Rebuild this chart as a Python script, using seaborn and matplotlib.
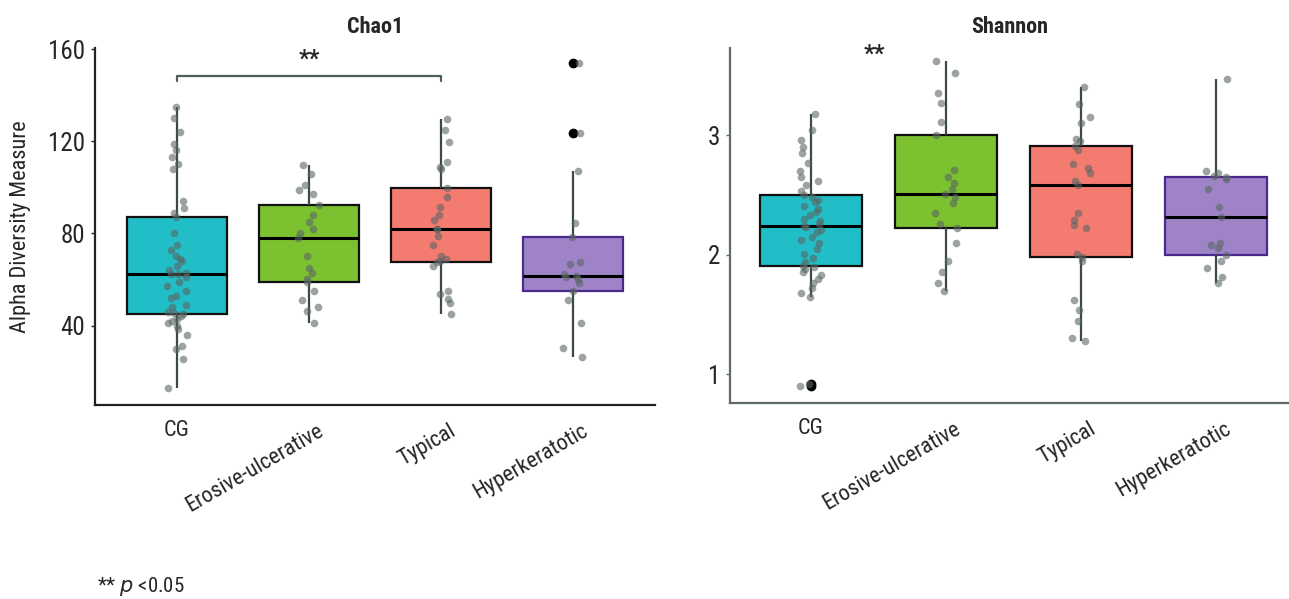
import numpy as np
import pandas as pd
import matplotlib
matplotlib.use("Agg")
import matplotlib.pyplot as plt
import matplotlib.transforms as mtransforms
from matplotlib import font_manager
import seaborn as sns

# ---- data -------------------------------------------------------------
groups = ["CG", "Erosive-ulcerative", "Typical", "Hyperkeratotic"]

chao1_cg = [12.8, 25.5, 30, 31, 36, 38.5, 40, 41, 42, 43, 44, 44.8, 45.5, 46, 48,
            49, 52, 53, 55, 57, 59, 61, 62.2, 62.5, 63, 64, 66, 68, 69, 70, 73, 75,
            80, 87, 89, 91, 94, 108, 110, 113, 116, 119, 124, 130, 135]
chao1_ero = [41, 46.5, 48, 51, 55, 59.1, 60, 62.6, 65, 70, 77.8, 80, 82, 85, 88,
             92.2, 97, 99, 101, 106, 109.6]
chao1_typ = [44.8, 49.6, 51.7, 53.9, 55, 66, 67.4, 68, 69, 70.4, 75, 79, 81.7, 82,
             85.6, 87.8, 91.3, 95.7, 99.6, 107.8, 109, 110.9, 119.6, 125, 129.6]
chao1_hyp = [26.5, 30.4, 40.9, 50.9, 54.8, 58.3, 60, 61, 61.7, 62.5, 66.5, 67.4,
             78.3, 84.3, 107, 123.5, 154]

shannon_cg = [0.90, 0.92, 1.65, 1.68, 1.72, 1.76, 1.80, 1.83, 1.86, 1.88, 1.90, 1.91,
              1.94, 1.97, 2.01, 2.05, 2.10, 2.12, 2.15, 2.19, 2.21, 2.23, 2.24, 2.26,
              2.28, 2.30, 2.33, 2.36, 2.38, 2.41, 2.44, 2.46, 2.48, 2.50, 2.53, 2.58,
              2.62, 2.65, 2.70, 2.77, 2.85, 2.90, 2.96, 3.04, 3.18]
shannon_ero = [1.70, 1.76, 1.86, 1.95, 2.10, 2.22, 2.26, 2.35, 2.43, 2.48, 2.51, 2.55,
               2.60, 2.65, 2.71, 3.00, 3.11, 3.27, 3.35, 3.52, 3.62]
shannon_typ = [1.28, 1.30, 1.45, 1.54, 1.62, 1.95, 1.98, 2.01, 2.22, 2.25, 2.29, 2.35,
               2.58, 2.62, 2.68, 2.73, 2.76, 2.88, 2.91, 2.95, 2.97, 3.10, 3.15, 3.26,
               3.40]
shannon_hyp = [1.76, 1.81, 1.89, 1.95, 2.00, 2.06, 2.08, 2.10, 2.32, 2.40, 2.55, 2.63,
               2.65, 2.66, 2.68, 2.70, 3.47]

chao1_ticks = [40, 80, 120, 160]
shannon_ticks = [1, 2, 3]

palette = ["#22BEC8", "#7CC130", "#F37B70", "#9E84C6"]
edge_colors = ["#111111", "#111111", "#111111", "#4A2A8E"]


def long_frame(series):
    rows = []
    for g, vals in zip(groups, series):
        rows += [(g, v) for v in vals]
    return pd.DataFrame(rows, columns=["group", "value"])


chao1_df = long_frame([chao1_cg, chao1_ero, chao1_typ, chao1_hyp])
shannon_df = long_frame([shannon_cg, shannon_ero, shannon_typ, shannon_hyp])

# ---- style ------------------------------------------------------------
sns.set_theme(style="white")
available = {f.name for f in font_manager.fontManager.ttflist}
base_font = "Roboto"
for cand in ["Roboto Condensed", "Liberation Sans Narrow", "Open Sans Condensed"]:
    if cand in available:
        base_font = cand
        break
plt.rcParams["font.family"] = [base_font, "DejaVu Sans"]

fig = plt.figure(figsize=(12.89, 5.99), dpi=100)
ax1 = fig.add_axes([0.0737, 0.3239, 0.4344, 0.5960])
ax2 = fig.add_axes([0.5663, 0.3272, 0.4337, 0.5927])

np.random.seed(7)


def draw_panel(ax, df, spine_color, whisker_color):
    sns.boxplot(data=df, x="group", y="value", hue="group", order=groups,
                hue_order=groups, palette=palette, legend=False, width=0.76,
                saturation=1, showcaps=False, linewidth=1.6, linecolor="#111111",
                whiskerprops=dict(color=whisker_color, linewidth=1.6),
                medianprops=dict(color="black", linewidth=2.2),
                flierprops=dict(marker="o", markerfacecolor="black",
                                markeredgecolor="black", markersize=6),
                ax=ax, zorder=2)
    for patch, ec in zip(ax.patches, edge_colors):
        patch.set_edgecolor(ec)
    sns.stripplot(data=df, x="group", y="value", order=groups, color="#5a6665",
                  alpha=0.6, size=5.5, jitter=0.08, linewidth=0, ax=ax, zorder=3)
    ax.set_xlabel("")
    ax.set_ylabel("")
    for side in ["top", "right"]:
        ax.spines[side].set_visible(False)
    for side in ["left", "bottom"]:
        ax.spines[side].set_color(spine_color)
        ax.spines[side].set_linewidth(1.6)
    ax.tick_params(axis="y", length=3, width=1, color=spine_color,
                   labelsize=18, pad=4, left=True)
    ax.tick_params(axis="x", length=0, labelsize=16, pad=11)
    ax.set_xticks(range(len(groups)))
    ax.set_xticklabels(groups)
    shift = mtransforms.ScaledTranslation(8 / 100, 0, fig.dpi_scale_trans)
    for i, lab in enumerate(ax.get_xticklabels()):
        if i == 0:
            lab.set_rotation(0)
            lab.set_ha("center")
        else:
            lab.set_rotation(30)
            lab.set_ha("right")
            lab.set_va("top")
            lab.set_rotation_mode("anchor")
            lab.set_transform(lab.get_transform() + shift)


draw_panel(ax1, chao1_df, "#222222", "#3d4848")
draw_panel(ax2, shannon_df, "#5d6b6b", "#3d4848")

ax1.set_xlim(-0.62, 3.62)
ax1.set_ylim(5.5, 160.5)
ax1.set_yticks(chao1_ticks)
ax1.set_ylabel("Alpha Diversity Measure", fontsize=16, labelpad=12)

ax2.set_xlim(-0.6, 3.54)
ax2.set_ylim(0.76, 3.73)
ax2.set_yticks(shannon_ticks)

ax1.set_title("Chao1", fontsize=16, fontweight="bold", pad=11)
ax2.set_title("Shannon", fontsize=16, fontweight="bold", pad=11)

# significance bracket between CG and Typical (Chao1)
ax1.plot([0, 0, 2, 2], [146, 148.5, 148.5, 146], color="#4d5c5c", lw=1.6,
         clip_on=False, zorder=4)
ax1.text(1, 150.5, "**", ha="center", va="bottom", fontsize=17, fontweight="bold")
ax2.text(0.47, 3.58, "**", ha="center", va="bottom", fontsize=17, fontweight="bold")

fig.text(97 / 1289, 1 - 586 / 599, r"** $\it{p}$ <0.05", fontsize=15,
         ha="left", va="center")

fig.savefig("out.png", dpi=100)
